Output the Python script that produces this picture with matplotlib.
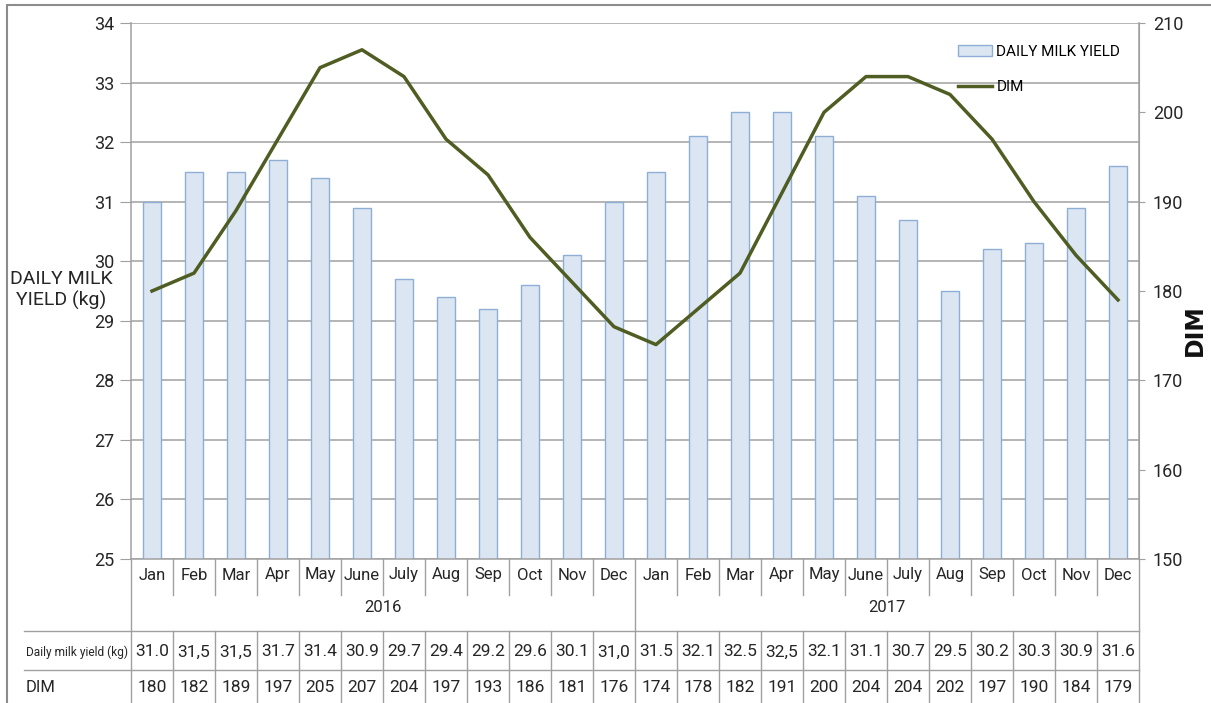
import numpy as np
import matplotlib.pyplot as plt
from matplotlib.patches import Patch, Rectangle
from matplotlib.lines import Line2D

months = ["Jan", "Feb", "Mar", "Apr", "May", "June", "July",
          "Aug", "Sep", "Oct", "Nov", "Dec"] * 2
years = ["2016", "2017"]
milk = [31.0, 31.5, 31.5, 31.7, 31.4, 30.9, 29.7, 29.4, 29.2, 29.6, 30.1, 31.0,
        31.5, 32.1, 32.5, 32.5, 32.1, 31.1, 30.7, 29.5, 30.2, 30.3, 30.9, 31.6]
milk_text = ["31.0", "31,5", "31,5", "31.7", "31.4", "30.9", "29.7", "29.4",
             "29.2", "29.6", "30.1", "31,0", "31.5", "32.1", "32.5", "32,5",
             "32.1", "31.1", "30.7", "29.5", "30.2", "30.3", "30.9", "31.6"]
dim = [180, 182, 189, 197, 205, 207, 204, 197, 193, 186, 181, 176,
       174, 178, 182, 191, 200, 204, 204, 202, 197, 190, 184, 179]

FONT = ["Roboto", "DejaVu Sans"]
plt.rcParams['font.family'] = FONT
BAR_FACE = "#dce6f2"
BAR_EDGE = "#8eaed6"
LINE_C = "#4f5d23"
GRID_C = "#a0a0a0"
TXT = "#262626"

W, H = 1211, 703
fig = plt.figure(figsize=(W / 100, H / 100), dpi=100)
left, right, top, bottom = 131, 1139, 23, 559
ax = fig.add_axes([left / W, 1 - bottom / H, (right - left) / W, (bottom - top) / H])

x = np.arange(len(months))
ax.bar(x, milk, width=0.42, bottom=0, color=BAR_FACE, edgecolor=BAR_EDGE, lw=1.0, zorder=2)
ax.set_ylim(25, 34)
ax.set_xlim(-0.5, len(months) - 0.5)
ax.set_yticks(range(25, 35))
ax.yaxis.grid(True, color=GRID_C, lw=1.1, zorder=0)
ax.set_axisbelow(True)
ax.set_xticks([])
ax.spines["top"].set_visible(False)
for s in ["left", "right", "bottom"]:
    ax.spines[s].set_color(GRID_C)
    ax.spines[s].set_linewidth(1.1)
ax.tick_params(axis='y', length=8, color=GRID_C, labelsize=13, labelcolor=TXT, pad=4)

ax2 = ax.twinx()
ax2.plot(x, dim, color=LINE_C, lw=2.5, zorder=5)
ax2.set_ylim(150, 210)
ax2.set_yticks(range(150, 211, 10))
ax2.tick_params(axis='y', length=4, color=GRID_C, labelsize=13, labelcolor=TXT, pad=6)
for s in ax2.spines.values():
    s.set_visible(False)
ax2.spines["right"].set_visible(True)
ax2.spines["right"].set_color(GRID_C)

fig.text(61 / W, 1 - 290 / H, "DAILY MILK\nYIELD (kg)", ha='center',
         va='center', fontsize=14, color=TXT, linespacing=1.15)
fig.text(1195 / W, 1 - 330 / H, "DIM", rotation=90, ha='center', va='center',
         fontsize=17, fontweight='bold', family=["DejaVu Sans"], color="#111111")

handles = [Patch(facecolor=BAR_FACE, edgecolor=BAR_EDGE, lw=1.0),
           Line2D([], [], color=LINE_C, lw=2.5)]
ax.legend(handles, ["DAILY MILK YIELD", "DIM"], loc='upper right',
          bbox_to_anchor=(0.995, 0.985), frameon=False, fontsize=11,
          handlelength=2.2, handletextpad=0.3, labelspacing=1.4)

# category table under the plot
tr = ax.get_xaxis_transform()
ah = bottom - top


def py(pix):
    return (bottom - pix) / ah


def vline(xv, y0, y1):
    ax.add_line(Line2D([xv, xv], [py(y0), py(y1)], transform=tr, color=GRID_C,
                       lw=1.0, clip_on=False))


def hline(x0, x1, yp):
    ax.add_line(Line2D([x0, x1], [py(yp), py(yp)], transform=tr, color=GRID_C,
                       lw=1.0, clip_on=False))


n = len(months)
for i in range(n):
    ax.text(i, py(575), months[i], transform=tr, ha='center', va='center',
            fontsize=12, color=TXT)
    ax.text(i, py(652), milk_text[i], transform=tr, ha='center', va='center',
            fontsize=12.5, color=TXT)
    ax.text(i, py(687), str(dim[i]), transform=tr, ha='center', va='center',
            fontsize=12.5, color=TXT)
for i in range(1, n):
    if i % 12 == 0:
        vline(i - 0.5, bottom, H + 5)
    else:
        vline(i - 0.5, bottom, 595)
        vline(i - 0.5, 631, H + 5)
vline(-0.5, bottom, H + 5)
vline(n - 0.5, bottom, H + 5)
for k, yr in enumerate(years):
    ax.text(k * 12 + 5.5, py(608), yr, transform=tr, ha='center', va='center',
            fontsize=12, color=TXT)

x_lab = -0.5 - (left - 24) / ((right - left) / n)
hline(x_lab, n - 0.5, 631)
hline(x_lab, n - 0.5, 670)
ax.text(x_lab + 0.04, py(652), "Daily milk yield (kg)", transform=tr, ha='left',
        va='center', fontsize=8.6, color=TXT)
ax.text(x_lab + 0.04, py(687), "DIM", transform=tr, ha='left', va='center',
        fontsize=12, color=TXT)

# outer frame
fig.patches.append(Rectangle((7 / W, -0.05), 1.2, 1 - 5 / H + 0.05,
                             transform=fig.transFigure, fill=False,
                             edgecolor="#8c8c8c", lw=1.5))

fig.savefig("out.png", dpi=100)
